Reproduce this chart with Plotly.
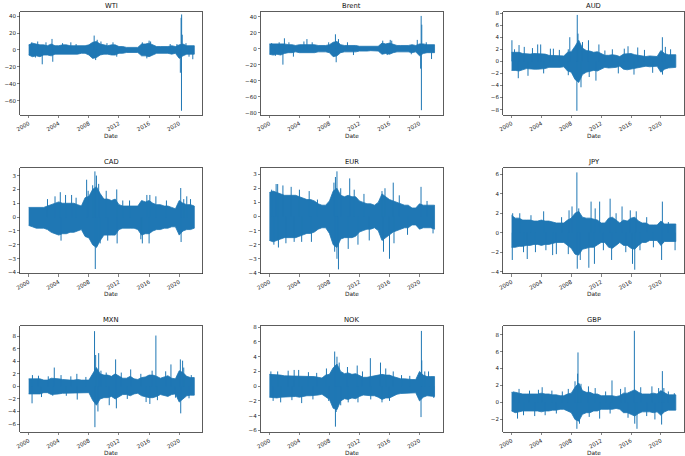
import pandas as pd
import plotly.graph_objects as go

# ---------------- data ----------------
titles = ["WTI", "Brent", "AUD", "CAD", "EUR", "JPY", "MXN", "NOK", "GBP"]

# half-year grid 2000-01 .. 2022-01 (45 points) for band envelopes
grid = pd.date_range("2000-01-01", "2022-01-01", freq="6MS")

wti_up = [6, 8, 7, 6, 6, 5, 7, 5, 5, 6, 6, 5, 5, 5, 5, 5, 6, 9, 10, 7, 6, 5, 6, 6, 4, 4, 3, 3, 3, 3, 7, 7, 8, 6, 4, 4, 4, 4, 5, 4, 6, 7, 5, 5, 5]
wti_lo = [-6, -8, -7, -8, -6, -6, -7, -5, -5, -5, -5, -5, -5, -5, -4, -4, -6, -10, -9, -6, -5, -5, -6, -6, -4, -4, -3, -3, -3, -3, -7, -7, -8, -6, -4, -4, -4, -4, -5, -4, -10, -7, -5, -5, -5]
wti_spk_t = [2000.4, 2000.9, 2001.2, 2001.8, 2002.3, 2003.1, 2003.2, 2004.5, 2005.6, 2006.3, 2008.7, 2008.9, 2009.1, 2009.6, 2010.4, 2011.2, 2011.7, 2015.1, 2015.7, 2016.0, 2016.2, 2018.8, 2019.7, 2020.15, 2020.25, 2020.3, 2020.32, 2020.4, 2020.9, 2021.3, 2021.8]
wti_spk_v = [9, -9, 10, -17, 9, 13, -14, 8, 9, 7, 17, -12, 12, 10, 8, 9, -8, 9, -10, 11, 10, 7, 7, -27, 38, -72, 42, 18, 8, -8, -11]

brent_up = [6, 6, 6, 6, 6, 5, 5, 4, 5, 5, 5, 5, 5, 4, 4, 4, 5, 8, 9, 5, 4, 4, 4, 4, 3, 3, 3, 2.5, 2.5, 3, 7, 6, 7, 5, 4, 4, 4, 4, 5, 4, 6, 6, 5, 5, 5]
brent_lo = [-7, -8, -7, -8, -6, -5, -5, -4, -5, -5, -5, -5, -5, -4, -4, -4, -5, -10, -9, -5, -4, -4, -4, -4, -3, -3, -3, -2.5, -2.5, -3, -7, -6, -7, -5, -4, -4, -4, -4, -5, -4, -9, -6, -5, -5, -5]
brent_spk_t = [2000.3, 2000.8, 2001.3, 2001.8, 2002.0, 2002.6, 2003.2, 2004.6, 2005.0, 2005.7, 2007.9, 2008.8, 2008.9, 2009.2, 2010.4, 2011.2, 2015.1, 2015.7, 2016.1, 2016.3, 2018.9, 2019.7, 2020.15, 2020.22, 2020.25, 2020.3, 2020.9, 2021.6]
brent_spk_v = [7, -9, 8, -20, 13, 8, -10, 9, 12, 8, 8, 18, -17, 12, 8, -8, 10, -8, 11, 10, -7, 11, -25, 41, -77, 30, 8, -13]

aud_up = [1.5, 1.5, 1.5, 1.3, 1.2, 1.2, 1.3, 1.3, 1.3, 1.2, 1.0, 1.0, 1.0, 1.0, 0.9, 1.5, 1.6, 2.5, 3.5, 2.2, 1.8, 1.7, 1.5, 1.6, 1.3, 1.0, 1.0, 1.1, 1.0, 0.8, 1.2, 1.3, 1.3, 1.1, 1.0, 0.9, 0.8, 0.9, 0.9, 0.8, 1.8, 1.3, 1.1, 1.1, 1.1]
aud_lo = [-1.5, -1.5, -1.6, -1.4, -1.2, -1.2, -1.3, -1.3, -1.3, -1.2, -1.0, -1.0, -1.0, -1.0, -0.9, -1.6, -1.8, -3.0, -3.5, -2.2, -1.8, -1.7, -1.5, -1.6, -1.3, -1.0, -1.1, -1.1, -1.0, -0.8, -1.3, -1.4, -1.3, -1.1, -1.0, -0.9, -0.8, -0.9, -0.9, -0.8, -1.8, -1.3, -1.1, -1.0, -1.0]
aud_spk_t = [2000.05, 2000.4, 2000.9, 2001.0, 2001.7, 2002.2, 2002.8, 2003.5, 2003.9, 2004.3, 2005.2, 2005.6, 2006.4, 2007.6, 2007.6, 2007.8, 2008.75, 2008.8, 2008.9, 2009.3, 2009.5, 2010.3, 2010.4, 2011.3, 2011.7, 2012.5, 2013.5, 2014.3, 2015.1, 2015.6, 2016.4, 2016.9, 2017.8, 2018.9, 2020.2, 2020.22, 2020.6, 2021.3]
aud_spk_v = [3.5, 2.0, -2.8, 2.7, 2.4, -2.4, 2.2, 2.8, 2.8, -2.0, 2.1, 2.1, 1.9, 2.0, -2.3, 4.0, -8.2, 7.7, 4.6, -4.3, 3.2, 3.5, -2.6, -3.2, 2.8, 1.8, 2.0, -2.0, 2.1, 2.5, -2.2, 2.3, 1.9, -1.9, 4.0, -2.2, 2.4, 2.0]

cad_up = [0.7, 0.7, 0.7, 0.7, 0.7, 0.8, 0.9, 1.0, 1.1, 1.0, 1.0, 1.0, 1.0, 0.9, 0.8, 1.4, 1.5, 2.0, 2.2, 1.7, 1.3, 1.3, 1.2, 1.3, 0.9, 0.8, 0.8, 0.8, 0.8, 0.8, 1.2, 1.1, 1.2, 1.0, 0.9, 0.9, 0.8, 0.8, 0.7, 0.6, 1.2, 1.0, 0.9, 0.9, 0.8]
cad_lo = [-0.6, -0.7, -0.8, -0.8, -0.8, -0.9, -1.1, -1.2, -1.3, -1.2, -1.2, -1.1, -1.1, -1.0, -0.9, -1.4, -1.5, -2.0, -2.2, -1.7, -1.3, -1.3, -1.3, -1.3, -0.9, -0.8, -0.8, -0.8, -0.8, -0.9, -1.3, -1.2, -1.2, -1.0, -0.9, -0.9, -0.8, -0.8, -0.7, -0.7, -1.3, -1.0, -0.9, -0.9, -0.8]
cad_spk_t = [2002.5, 2003.5, 2004.2, 2004.3, 2004.9, 2005.7, 2006.3, 2007.7, 2007.9, 2008.5, 2008.8, 2008.85, 2009.0, 2009.1, 2009.3, 2009.5, 2010.3, 2010.5, 2011.7, 2011.75, 2012.5, 2013.4, 2014.9, 2015.1, 2015.7, 2016.0, 2016.1, 2016.9, 2018.3, 2020.2, 2020.25, 2020.6, 2021.0, 2021.5]
cad_spk_v = [1.3, 1.5, 1.8, -1.7, 1.6, 1.6, 1.4, 2.7, 1.9, 2.3, 3.3, -3.75, 3.0, -2.1, 2.4, -1.9, 1.9, -1.7, 2.0, -1.9, 1.2, 1.2, -1.6, -1.9, 1.6, -1.9, 1.6, 1.5, 1.2, 2.1, -1.8, 1.3, 1.5, 1.3]

eur_up = [1.7, 1.8, 1.7, 1.6, 1.5, 1.5, 1.5, 1.5, 1.4, 1.3, 1.2, 1.2, 1.1, 0.9, 0.8, 0.8, 1.1, 1.8, 2.0, 1.5, 1.4, 1.5, 1.4, 1.4, 1.1, 1.0, 0.9, 0.9, 0.8, 1.0, 1.6, 1.4, 1.2, 1.1, 1.0, 0.9, 0.8, 0.8, 0.6, 0.6, 0.9, 0.8, 0.8, 0.8, 0.8]
eur_lo = [-1.7, -1.8, -1.7, -1.6, -1.5, -1.5, -1.5, -1.5, -1.4, -1.3, -1.2, -1.2, -1.1, -0.9, -0.8, -0.8, -1.2, -2.0, -2.2, -1.6, -1.5, -1.5, -1.5, -1.4, -1.1, -1.0, -0.9, -0.9, -0.8, -1.0, -1.7, -1.5, -1.3, -1.1, -1.0, -0.9, -0.8, -0.8, -0.6, -0.6, -0.9, -0.8, -0.8, -0.8, -0.9]
eur_spk_t = [2000.3, 2000.6, 2000.9, 2001.1, 2001.2, 2001.8, 2002.2, 2002.9, 2003.3, 2004.0, 2004.3, 2005.3, 2005.6, 2006.4, 2008.6, 2008.8, 2009.0, 2008.7, 2009.0, 2009.2, 2009.5, 2010.7, 2010.5, 2011.3, 2011.8, 2012.6, 2013.3, 2015.0, 2015.2, 2015.4, 2016.0, 2016.5, 2016.6, 2017.3, 2018.4, 2020.2, 2021.0, 2021.8]
eur_spk_v = [1.9, -2.0, 2.3, 2.3, -2.2, 2.2, -1.9, 2.1, -1.8, 1.9, -1.8, 1.8, -1.8, 1.2, 2.4, 2.8, 3.2, -2.5, -3.0, -3.75, 2.0, 2.7, -2.3, 1.9, -2.0, 1.6, -1.7, 1.8, -2.5, 2.0, -3.0, 2.4, -1.9, 1.5, -1.3, 2.1, 1.1, -1.2]

jpy_up = [1.8, 1.5, 1.5, 1.3, 1.3, 1.3, 1.2, 1.2, 1.3, 1.2, 1.2, 1.1, 1.0, 1.0, 1.0, 1.3, 1.5, 2.0, 2.2, 1.6, 1.5, 1.5, 1.4, 1.3, 1.0, 1.0, 1.5, 1.6, 1.3, 1.0, 1.3, 1.2, 1.5, 1.6, 1.2, 1.0, 1.0, 0.8, 0.8, 0.8, 1.2, 0.9, 0.9, 0.9, 0.9]
jpy_lo = [-1.5, -1.5, -1.4, -1.4, -1.3, -1.3, -1.2, -1.2, -1.3, -1.2, -1.2, -1.1, -1.0, -1.0, -1.0, -1.3, -1.6, -2.2, -2.3, -1.7, -1.6, -1.5, -1.5, -1.3, -1.0, -1.0, -1.5, -1.6, -1.3, -1.0, -1.3, -1.3, -1.6, -1.7, -1.3, -1.0, -1.0, -0.8, -0.8, -0.8, -1.3, -0.9, -0.9, -0.9, -0.9]
jpy_spk_t = [2000.1, 2000.15, 2001.1, 2001.6, 2002.1, 2002.6, 2003.2, 2004.3, 2004.6, 2005.5, 2006.0, 2006.7, 2007.7, 2007.6, 2008.1, 2008.75, 2008.8, 2009.0, 2009.2, 2010.35, 2010.65, 2011.1, 2011.2, 2011.8, 2012.3, 2013.2, 2013.4, 2014.0, 2014.8, 2015.3, 2015.9, 2016.2, 2016.5, 2016.7, 2017.2, 2018.1, 2019.0, 2020.1, 2020.2, 2021.0, 2021.9]
jpy_spk_v = [-2.8, 2.0, 2.0, -2.0, -2.7, 1.8, -2.0, 2.2, -1.8, -2.3, -2.2, 1.6, 2.3, -2.2, 2.7, 6.2, -3.7, 2.5, -2.8, -3.6, 3.2, -3.2, 2.5, 3.2, -1.8, 3.5, -2.8, 2.0, 2.7, -2.0, 2.3, -3.2, -3.8, 2.2, -1.8, 1.6, -1.5, -2.8, 3.2, 1.1, -1.8]

mxn_up = [1.2, 1.2, 1.2, 1.2, 1.0, 1.0, 1.3, 1.3, 1.2, 1.1, 1.0, 1.0, 1.0, 1.1, 1.0, 1.0, 1.0, 2.0, 3.0, 2.0, 1.8, 1.8, 1.6, 2.0, 1.6, 1.3, 1.3, 1.6, 1.2, 1.1, 1.4, 1.5, 1.8, 1.8, 1.6, 1.3, 1.5, 1.7, 1.3, 1.2, 2.5, 2.2, 1.6, 1.4, 1.4]
mxn_lo = [-1.2, -1.3, -1.2, -1.2, -1.0, -1.0, -1.3, -1.3, -1.2, -1.1, -1.0, -1.0, -1.0, -1.1, -1.0, -1.0, -1.0, -2.2, -3.0, -2.0, -1.8, -1.8, -1.6, -2.0, -1.6, -1.3, -1.3, -1.5, -1.2, -1.1, -1.5, -1.6, -1.8, -1.8, -1.6, -1.3, -1.5, -1.6, -1.3, -1.2, -2.5, -2.0, -1.5, -1.4, -1.4]
mxn_spk_t = [2000.45, 2000.5, 2001.3, 2001.7, 2002.6, 2003.4, 2003.2, 2004.3, 2005.0, 2005.6, 2006.4, 2006.45, 2007.6, 2008.75, 2008.8, 2008.9, 2009.2, 2009.3, 2009.6, 2010.3, 2010.7, 2011.55, 2011.65, 2012.3, 2013.1, 2013.55, 2014.9, 2015.6, 2016.1, 2016.4, 2016.9, 2017.1, 2018.2, 2018.9, 2019.5, 2020.15, 2020.2, 2020.45, 2020.6, 2021.3, 2021.6]
mxn_spk_v = [-2.7, 1.8, 1.7, -1.7, 1.6, 3.0, -1.5, 1.8, -1.5, 1.6, 2.0, -2.1, 1.5, 8.8, -6.5, 5.0, -4.0, 5.3, 2.5, 2.2, -3.0, 4.3, -3.5, 2.2, -2.0, 2.7, 2.0, -2.5, -2.8, 2.5, 8.1, -2.2, 2.4, 3.5, -1.8, 4.3, -4.3, 4.1, 3.0, -1.9, 1.8]

nok_up = [1.6, 1.6, 1.6, 1.5, 1.4, 1.4, 1.4, 1.4, 1.4, 1.4, 1.3, 1.3, 1.3, 1.2, 1.1, 1.5, 1.6, 2.5, 3.0, 2.0, 1.7, 1.8, 1.6, 1.7, 1.4, 1.2, 1.2, 1.3, 1.3, 1.4, 1.6, 1.5, 1.5, 1.3, 1.1, 1.0, 1.0, 0.9, 0.9, 0.9, 2.0, 1.5, 1.3, 1.3, 1.3]
nok_lo = [-1.5, -1.6, -1.6, -1.5, -1.4, -1.4, -1.4, -1.4, -1.5, -1.4, -1.3, -1.3, -1.3, -1.2, -1.1, -1.5, -1.8, -3.0, -3.2, -2.0, -1.7, -1.8, -1.6, -1.7, -1.4, -1.2, -1.2, -1.3, -1.3, -1.5, -1.8, -1.6, -1.6, -1.3, -1.1, -1.0, -1.0, -0.9, -0.9, -0.9, -2.0, -1.5, -1.3, -1.3, -1.4]
nok_spk_t = [2000.2, 2000.5, 2001.1, 2001.5, 2002.5, 2003.0, 2003.3, 2003.9, 2004.3, 2005.2, 2005.8, 2006.3, 2007.6, 2007.9, 2008.7, 2008.8, 2008.9, 2009.0, 2009.3, 2009.5, 2010.4, 2010.5, 2011.7, 2011.8, 2012.4, 2013.45, 2013.5, 2014.8, 2015.0, 2015.5, 2016.0, 2016.5, 2017.6, 2018.7, 2020.2, 2020.25, 2020.3, 2020.7, 2021.2, 2021.9]
nok_spk_v = [2.0, -2.0, 2.0, -2.2, 2.1, -1.9, 2.2, 2.2, -2.3, 1.9, -1.8, 1.8, 2.4, -2.0, 4.7, -5.5, -3.5, 4.0, 3.2, -2.6, 2.6, -2.2, 2.8, -2.2, 2.0, 3.8, -1.8, 3.2, -2.2, 2.4, -2.0, 2.0, 1.5, 1.4, -4.2, 7.5, 3.5, 2.0, 2.0, -1.6]

gbp_up = [1.2, 1.2, 1.1, 1.0, 1.0, 1.0, 1.0, 1.0, 1.1, 1.0, 1.0, 0.9, 0.9, 0.8, 0.8, 1.0, 1.1, 1.8, 2.3, 1.4, 1.2, 1.2, 1.0, 1.0, 0.8, 0.8, 0.8, 0.8, 0.7, 0.8, 1.1, 1.1, 1.3, 1.5, 1.2, 1.0, 1.0, 1.0, 1.1, 1.0, 1.4, 1.1, 0.9, 0.9, 0.9]
gbp_lo = [-1.0, -1.2, -1.1, -1.0, -1.0, -1.0, -1.0, -1.0, -1.1, -1.0, -1.0, -0.9, -0.9, -0.8, -0.8, -1.0, -1.2, -2.0, -2.2, -1.4, -1.2, -1.2, -1.0, -1.0, -0.8, -0.8, -0.8, -0.8, -0.7, -0.8, -1.2, -1.2, -1.4, -1.6, -1.3, -1.1, -1.1, -1.1, -1.2, -1.1, -1.5, -1.1, -0.9, -0.9, -0.9]
gbp_spk_t = [2000.3, 2000.8, 2001.0, 2001.6, 2002.4, 2003.1, 2003.6, 2004.1, 2004.5, 2005.4, 2006.0, 2006.8, 2007.6, 2008.5, 2008.75, 2008.85, 2008.9, 2009.1, 2009.3, 2010.3, 2010.4, 2011.2, 2011.8, 2012.6, 2013.45, 2013.2, 2014.6, 2015.2, 2015.6, 2016.45, 2016.5, 2016.8, 2017.3, 2018.1, 2018.8, 2019.2, 2019.7, 2020.1, 2020.2, 2020.4, 2021.0, 2021.8]
gbp_spk_v = [1.3, -1.9, 1.6, -1.5, 1.4, -1.6, 1.5, 1.8, -1.5, 1.4, -1.3, 1.3, 1.6, 2.5, -3.1, 3.4, 5.9, -2.5, 2.2, 1.9, -1.7, 1.7, -1.9, 1.3, 2.6, -1.3, 1.6, 1.8, -1.8, 8.45, -2.5, -3.1, 1.8, -1.6, 1.9, -2.0, 1.7, -2.6, 3.7, 1.7, 1.3, 1.1]

y_ranges = [[-77, 45], [-83, 46], [-8.9, 8.2], [-4.08, 3.58], [-4.05, 3.47],
            [-4.2, 6.7], [-7.3, 9.6], [-6.25, 8.15], [-3.5, 9.0]]
y_dticks = [20, 20, 2, 1, 1, 2, 2, 2, 2]

series = [
    (wti_up, wti_lo, wti_spk_t, wti_spk_v),
    (brent_up, brent_lo, brent_spk_t, brent_spk_v),
    (aud_up, aud_lo, aud_spk_t, aud_spk_v),
    (cad_up, cad_lo, cad_spk_t, cad_spk_v),
    (eur_up, eur_lo, eur_spk_t, eur_spk_v),
    (jpy_up, jpy_lo, jpy_spk_t, jpy_spk_v),
    (mxn_up, mxn_lo, mxn_spk_t, mxn_spk_v),
    (nok_up, nok_lo, nok_spk_t, nok_spk_v),
    (gbp_up, gbp_lo, gbp_spk_t, gbp_spk_v),
]


def to_date(y):
    yr = int(y)
    return pd.Timestamp(year=yr, month=1, day=1) + pd.Timedelta(days=(y - yr) * 365.25)


# ---------------- layout geometry (pixels) ----------------
W, H = 685, 456
col_x = [(15.5, 199), (258, 441), (502, 684)]
row_y = [(10, 114), (167, 274), (327, 434)]
BLUE = "#1f77b4"
FONT = "DejaVu Sans"

fig = go.Figure()
layout = dict(width=W, height=H, margin=dict(l=0, r=0, t=0, b=0),
              paper_bgcolor="white", plot_bgcolor="white", showlegend=False,
              font=dict(family=FONT, size=6, color="#222"))
annotations = []

grid_dates = list(grid)
for i, (up, lo, st, sv) in enumerate(series):
    r, c = divmod(i, 3)
    k = "" if i == 0 else str(i + 1)
    x0, x1 = col_x[c]
    yt, yb = row_y[r]
    xd = [x0 / W, x1 / W]
    yd = [1 - yb / H, 1 - yt / H]

    # band
    bx = grid_dates + grid_dates[::-1]
    by = list(up) + list(lo)[::-1]
    fig.add_trace(go.Scatter(x=bx, y=by, fill="toself", fillcolor=BLUE, mode="lines",
                             line=dict(color=BLUE, width=0.8), hoverinfo="skip",
                             xaxis="x" + k, yaxis="y" + k))
    # spikes
    sx, sy = [], []
    for t, v in zip(st, sv):
        d = to_date(t)
        sx += [d, d, None]
        sy += [0, v, None]
    fig.add_trace(go.Scatter(x=sx, y=sy, mode="lines", line=dict(color=BLUE, width=1.0),
                             hoverinfo="skip", xaxis="x" + k, yaxis="y" + k))

    axstyle = dict(showline=True, mirror=True, linecolor="#333", linewidth=0.8,
                   ticks="outside", ticklen=2.5, tickwidth=0.6, tickcolor="#333",
                   showgrid=False, zeroline=False,
                   tickfont=dict(family=FONT, size=5.5, color="#222"))
    layout["xaxis" + k] = dict(domain=xd, anchor="y" + k, type="date",
                               range=["1998-11-25", "2023-02-06"],
                               tick0="2000-01-01", dtick="M48", tickformat="%Y",
                               tickangle=-30, **axstyle)
    layout["yaxis" + k] = dict(domain=yd, anchor="x" + k, range=y_ranges[i],
                               dtick=y_dticks[i], **axstyle)

    xc = (xd[0] + xd[1]) / 2
    annotations.append(dict(text=titles[i], x=xc, y=1 - (yt - 6) / H, xref="paper", yref="paper",
                            showarrow=False, xanchor="center", yanchor="middle",
                            font=dict(family=FONT, size=6.8, color="#111")))
    annotations.append(dict(text="Date", x=xc, y=1 - (yb + 21) / H, xref="paper", yref="paper",
                            showarrow=False, xanchor="center", yanchor="middle",
                            font=dict(family=FONT, size=5.8, color="#222")))

layout["annotations"] = annotations
fig.update_layout(**layout)
fig.write_html("out.html",
               config={"displayModeBar": False, "staticPlot": True},
               post_script="document.body.style.margin='0';document.body.style.padding='0';"
                           "document.documentElement.style.overflow='hidden';")
